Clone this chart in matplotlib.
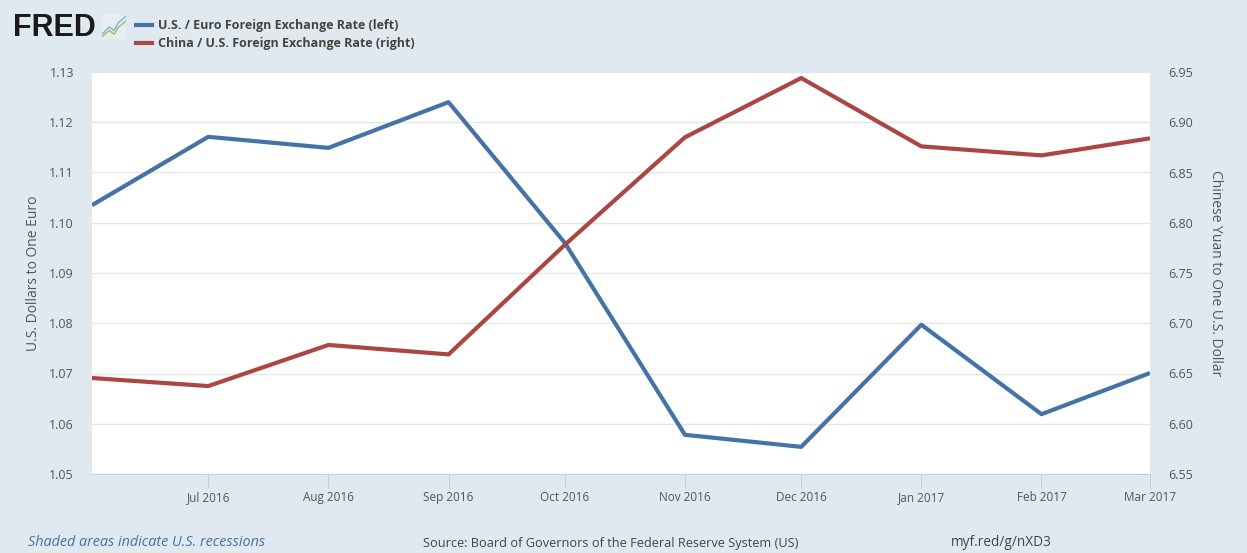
import matplotlib
matplotlib.use("Agg")
import matplotlib.pyplot as plt
import matplotlib.dates as mdates
import numpy as np
from datetime import date

dates = [date(2016, 6, 1), date(2016, 7, 1), date(2016, 8, 1), date(2016, 9, 1),
         date(2016, 10, 1), date(2016, 11, 1), date(2016, 12, 1), date(2017, 1, 1),
         date(2017, 2, 1), date(2017, 3, 1)]
usd_eur = [1.1035, 1.1171, 1.1149, 1.1240, 1.0960, 1.0578, 1.0554, 1.0797, 1.0619, 1.0701]
cny_usd = [6.6455, 6.6375, 6.6784, 6.6690, 6.7780, 6.8850, 6.9440, 6.8760, 6.8670, 6.8840]
left_ticks = [1.05, 1.06, 1.07, 1.08, 1.09, 1.10, 1.11, 1.12, 1.13]
right_ticks = [6.55, 6.60, 6.65, 6.70, 6.75, 6.80, 6.85, 6.90, 6.95]
x_tick_labels = ["Jul 2016", "Aug 2016", "Sep 2016", "Oct 2016", "Nov 2016",
                 "Dec 2016", "Jan 2017", "Feb 2017", "Mar 2017"]
legend_labels = ["U.S. / Euro Foreign Exchange Rate (left)",
                 "China / U.S. Foreign Exchange Rate (right)"]

BG = "#e1e9f0"
BLUE = "#4572a7"
RED = "#aa4643"
TXT = "#555555"

plt.rcParams['font.family'] = ['Open Sans', 'DejaVu Sans']

W, H = 1247, 553
fig = plt.figure(figsize=(W / 100, H / 100), dpi=100, facecolor=BG)
L, R, T, B = 92, 1150, 72, 474
ax = fig.add_axes([L / W, 1 - B / H, (R - L) / W, (B - T) / H])
ax.set_facecolor("white")
ax2 = ax.twinx()

xd = mdates.date2num(dates)
ax.plot(xd, usd_eur, color=BLUE, lw=3, solid_capstyle="butt", zorder=3)
ax2.plot(xd, cny_usd, color=RED, lw=3, solid_capstyle="butt", zorder=3)

ax.set_xlim(xd[0], xd[-1])
ax.set_ylim(left_ticks[0], left_ticks[-1])
ax2.set_ylim(right_ticks[0], right_ticks[-1])
ax.set_yticks(left_ticks)
ax.set_yticklabels([f"{v:.2f}" for v in left_ticks])
ax2.set_yticks(right_ticks)
ax2.set_yticklabels([f"{v:.2f}" for v in right_ticks])
ax.set_xticks(xd[1:])
ax.set_xticklabels(x_tick_labels)

ax.grid(axis="y", color="#e6e6e6", lw=1)
ax.set_axisbelow(True)
for a in (ax, ax2):
    for s in a.spines.values():
        s.set_visible(False)
ax.spines["bottom"].set_visible(True)
ax.spines["bottom"].set_color("#c0d0e0")
ax.tick_params(axis="y", length=0, labelsize=9, labelcolor=TXT, pad=13)
ax2.tick_params(axis="y", length=0, labelsize=9, labelcolor=TXT, pad=13)
ax.tick_params(axis="x", length=10, color="#c0d0e0", direction="out",
               labelsize=8.5, labelcolor=TXT, pad=2)

ax.set_ylabel("U.S. Dollars to One Euro", fontsize=10, color=TXT, labelpad=6)
ax2.set_ylabel("Chinese Yuan to One U.S. Dollar", fontsize=10, color=TXT,
               rotation=270, labelpad=22)

# Header: FRED logo + legend
fig.text(13 / W, 1 - 28 / H, "FRED", fontsize=22, fontweight="bold",
         color="#1a1a1a", va="center", ha="left", family="Liberation Sans")
icon = fig.add_axes([102 / W, 1 - 39 / H, 24 / W, 24 / H])
icon.set_facecolor("#e8eef0")
icon.plot([0, 0.3, 0.5, 0.7, 1.0], [0.2, 0.5, 0.35, 0.7, 0.95], color="#7fb0d0", lw=1)
icon.plot([0, 0.3, 0.5, 0.7, 1.0], [0.1, 0.35, 0.2, 0.5, 0.75], color="#90c070", lw=1)
icon.set_xlim(0, 1); icon.set_ylim(0, 1)
icon.set_xticks([]); icon.set_yticks([])
for s in icon.spines.values():
    s.set_visible(False)

for i, (lab, col) in enumerate(zip(legend_labels, [BLUE, RED])):
    y = 1 - (25 + 18 * i) / H
    fig.add_artist(plt.Line2D([136 / W, 152 / W], [y, y], color=col, lw=3,
                              transform=fig.transFigure))
    fig.text(158 / W, y, lab, fontsize=9, fontweight="bold", color="#444444",
             va="center", ha="left")

fig.text(28 / W, 1 - 543 / H, "Shaded areas indicate U.S. recessions", fontsize=10.4,
         style="italic", color="#4a6fa5", va="center", ha="left")
fig.text(423 / W, 1 - 543 / H, "Source: Board of Governors of the Federal Reserve System (US)",
         fontsize=9.2, color="#444444", va="center", ha="left")
fig.text(951 / W, 1 - 543 / H, "myf.red/g/nXD3", fontsize=9.8, color="#444444",
         va="center", ha="left")

fig.savefig("out.png", dpi=100, facecolor=BG)
